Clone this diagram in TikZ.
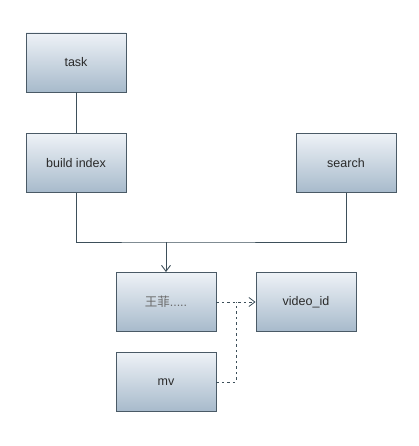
\documentclass[tikz,border=0pt]{standalone}
\usepackage{fontspec}
\setmainfont{Liberation Sans}
\newfontfamily\cjk{Noto Sans CJK SC}
\usetikzlibrary{arrows.meta}
\definecolor{boxtop}{HTML}{EEF2F7}
\definecolor{boxbot}{HTML}{A7BACB}
\definecolor{boxline}{HTML}{4A5A66}
\definecolor{conn}{HTML}{3D4F5A}
\definecolor{txt}{HTML}{2A2A2A}
\tikzset{
  box/.style={draw=boxline, line width=0.9pt, top color=boxtop, bottom color=boxbot,
    minimum width=100pt, minimum height=59pt, inner sep=0pt, text=txt,
    font=\fontsize{12.5pt}{14pt}\selectfont},
  conline/.style={draw=conn, line width=0.9pt},
  dashline/.style={draw=conn, line width=0.8pt, dash pattern=on 2.5pt off 3pt},
  tip/.style={-{Straight Barb[length=6pt,width=9pt]}}
}
\begin{document}
\begin{tikzpicture}[x=1pt,y=-1pt]
\useasboundingbox[fill=white] (0,0) rectangle (418,446);
\node[box] (task) at (76,62.5) {task};
\node[box] (build) at (76,163) {build index};
\node[box] (search) at (346,163) {search};
\node[box] (wf) at (166,302) {\textcolor{txt!70}{\cjk 王菲}\textcolor{txt!70}{.....}};
\node[box] (vid) at (306,302) {video\_id};
\node[box] (mv) at (166,382) {mv};
\coordinate (j) at (166,242);
\coordinate (m) at (236,302);
\draw[conline] (task.south) -- (build.north);
\draw[conline] (build.south) |- (j) -| (search.south);
\draw[conline,tip] (j) -- (wf.north);
\draw[dashline,tip] (wf.east) -- (vid.west);
\draw[dashline] (mv.east) -| (m);
\end{tikzpicture}
\end{document}
